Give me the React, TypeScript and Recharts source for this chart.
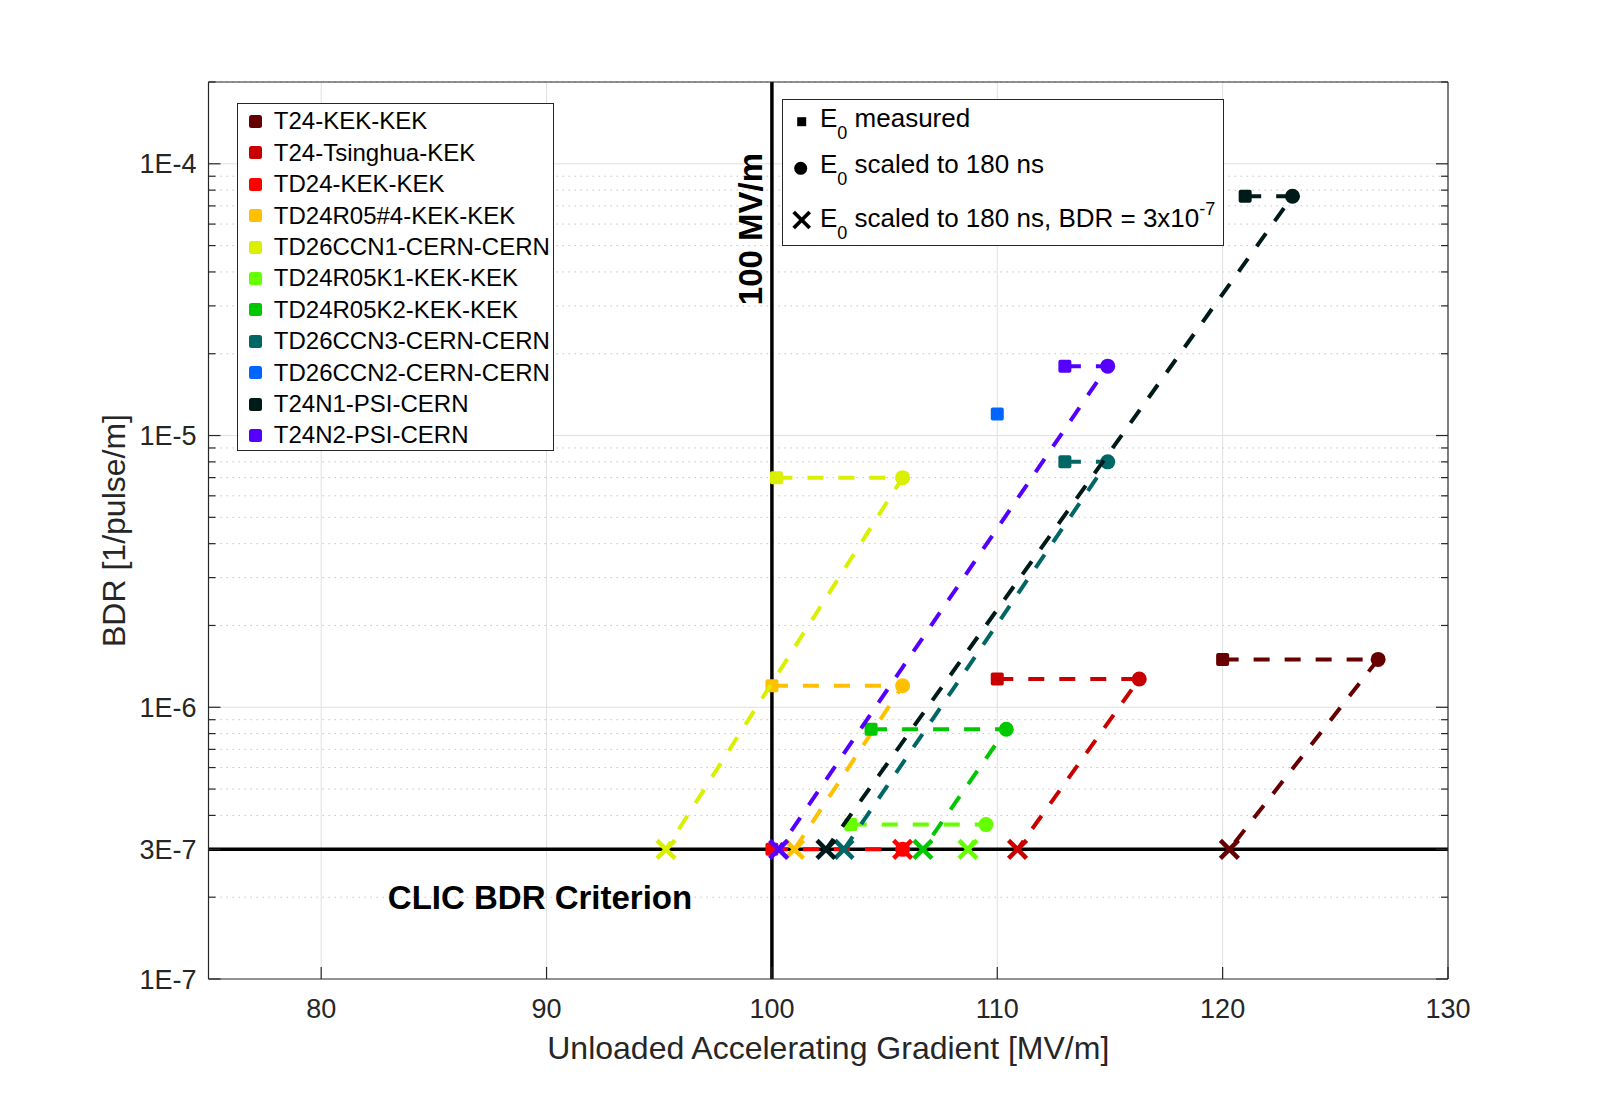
import React from 'react';
import { ScatterChart, Scatter, XAxis, YAxis, ReferenceLine } from 'recharts';

// ---------------- data ----------------
const SERIES_NAMES = [
  'T24-KEK-KEK',
  'T24-Tsinghua-KEK',
  'TD24-KEK-KEK',
  'TD24R05#4-KEK-KEK',
  'TD26CCN1-CERN-CERN',
  'TD24R05K1-KEK-KEK',
  'TD24R05K2-KEK-KEK',
  'TD26CCN3-CERN-CERN',
  'TD26CCN2-CERN-CERN',
  'T24N1-PSI-CERN',
  'T24N2-PSI-CERN',
];
// E0 measured [MV/m]
const E0_MEASURED = [120.0, 110.0, 100.0, 100.0, 100.2, 103.5, 104.4, 113.0, 110.0, 121.0, 113.0];
// E0 scaled to 180 ns [MV/m]
const E0_SCALED: (number | null)[] = [126.9, 116.3, 105.8, 105.8, 105.8, 109.5, 110.4, 114.9, null, 123.1, 114.9];
// measured BDR [1/pulse/m]
const BDR_MEASURED = [1.5e-6, 1.27e-6, 3.0e-7, 1.2e-6, 7.0e-6, 3.7e-7, 8.3e-7, 8.0e-6, 1.2e-5, 7.6e-5, 1.8e-5];
// E0 scaled to 180 ns at BDR = 3e-7
const E0_AT_CRITERION: (number | null)[] = [120.3, 110.9, 105.8, 101.0, 95.3, 108.7, 106.7, 103.2, null, 102.4, 100.3];
const BDR_CRITERION = 3e-7;
const GRADIENT_TARGET = 100;

const X_TICKS = [80, 90, 100, 110, 120, 130];
const X_GRID = [80, 90, 110, 120];
const Y_TICKS = [1e-7, 3e-7, 1e-6, 1e-5, 1e-4];
const Y_TICK_LABELS = ['1E-7', '3E-7', '1E-6', '1E-5', '1E-4'];
const Y_MAJOR_GRID = [1e-6, 1e-5, 1e-4];
const Y_MINOR = [
  2e-7, 4e-7, 5e-7, 6e-7, 7e-7, 8e-7, 9e-7,
  2e-6, 3e-6, 4e-6, 5e-6, 6e-6, 7e-6, 8e-6, 9e-6,
  2e-5, 3e-5, 4e-5, 5e-5, 6e-5, 7e-5, 8e-5, 9e-5,
  2e-4,
];
const X_DOMAIN = [75, 130];
const Y_DOMAIN = [1e-7, 2e-4];

// ---------------- styles ----------------
const COLORS = ['#660000', '#c80000', '#ff0000', '#ffc000', '#d9f000', '#66ff00', '#00c800', '#006666', '#0066ff', '#001919', '#5500ff'];
const FONT = "'Liberation Sans', Arial, Helvetica, sans-serif";
const AXIS = '#262626';

const ALL_Y_TICKS = [...Y_TICKS, ...Y_MINOR].sort((a, b) => a - b);
const majorIndex = (v: number) => Y_TICKS.findIndex((t) => Math.abs(t - v) / t < 1e-6);

const seriesData = SERIES_NAMES.map((name, i) => {
  const pts: { x: number; y: number; kind: string }[] = [
    { x: E0_MEASURED[i], y: BDR_MEASURED[i], kind: 'measured' },
  ];
  if (E0_SCALED[i] != null) pts.push({ x: E0_SCALED[i] as number, y: BDR_MEASURED[i], kind: 'scaled' });
  if (E0_AT_CRITERION[i] != null) pts.push({ x: E0_AT_CRITERION[i] as number, y: BDR_CRITERION, kind: 'criterion' });
  return pts;
});

const makeShape = (color: string) => (props: any) => {
  const { cx, cy, payload } = props;
  if (cx == null || cy == null) return <g />;
  if (payload.kind === 'measured') {
    return <rect x={cx - 6.5} y={cy - 6.5} width={13} height={13} rx={2} fill={color} />;
  }
  if (payload.kind === 'scaled') {
    return <circle cx={cx} cy={cy} r={7.5} fill={color} />;
  }
  return (
    <g stroke={color} strokeWidth={4.5}>
      <line x1={cx - 9} y1={cy - 9} x2={cx + 9} y2={cy + 9} />
      <line x1={cx - 9} y1={cy + 9} x2={cx + 9} y2={cy - 9} />
    </g>
  );
};

const LeftTick = (props: any) => {
  const { x, y, payload } = props;
  const idx = majorIndex(payload.value);
  const major = idx >= 0;
  return (
    <g>
      <line x1={x} x2={x + (major ? 12 : 7)} y1={y} y2={y} stroke={AXIS} strokeWidth={1.2} />
      {major && (
        <text x={x - 12} y={y + 9.5} textAnchor="end" fontSize={27} fontFamily={FONT} fill={AXIS}>
          {Y_TICK_LABELS[idx]}
        </text>
      )}
    </g>
  );
};

const RightTick = (props: any) => {
  const { x, y, payload } = props;
  const major = majorIndex(payload.value) >= 0;
  return <line x1={x} x2={x - (major ? 12 : 7)} y1={y} y2={y} stroke={AXIS} strokeWidth={1.2} />;
};

const BottomTick = (props: any) => {
  const { x, y, payload } = props;
  return (
    <g>
      <line x1={x} x2={x} y1={y} y2={y - 12} stroke={AXIS} strokeWidth={1.2} />
      <text x={x} y={y + 39} textAnchor="middle" fontSize={27} fontFamily={FONT} fill={AXIS}>
        {payload.value}
      </text>
    </g>
  );
};

const TopTick = (props: any) => {
  const { x, y } = props;
  return <line x1={x} x2={x} y1={y} y2={y + 12} stroke={AXIS} strokeWidth={1.2} />;
};

const XTitle = (props: any) => {
  const vb = props.viewBox || {};
  return (
    <text x={vb.x + vb.width / 2} y={vb.y + 80} textAnchor="middle" fontSize={32} fontFamily={FONT} fill={AXIS}>
      Unloaded Accelerating Gradient [MV/m]
    </text>
  );
};

const YTitle = (props: any) => {
  const vb = props.viewBox || {};
  const cx = vb.x + 16;
  const cy = vb.y + vb.height / 2;
  return (
    <text transform={`translate(${cx},${cy}) rotate(-90)`} textAnchor="middle" fontSize={32} fontFamily={FONT} fill={AXIS}>
      BDR [1/pulse/m]
    </text>
  );
};

const GradientLabel = (props: any) => {
  const vb = props.viewBox || {};
  return (
    <text
      transform={`translate(${vb.x - 9.5},${vb.y + 147}) rotate(-90)`}
      textAnchor="middle"
      fontSize={33}
      fontWeight="bold"
      fontFamily={FONT}
      fill="#000"
    >
      100 MV/m
    </text>
  );
};

const CriterionLabel = (props: any) => {
  const vb = props.viewBox || {};
  return (
    <text x={vb.x + 331.5} y={vb.y + 60} textAnchor="middle" fontSize={33} fontWeight="bold" fontFamily={FONT} fill="#000">
      CLIC BDR Criterion
    </text>
  );
};

const SeriesLegend = () => (
  <div
    style={{
      position: 'absolute',
      left: 236.5,
      top: 102.5,
      width: 317,
      height: 348,
      border: '1px solid #262626',
      background: '#fff',
      boxSizing: 'border-box',
      fontFamily: FONT,
    }}
  >
    {SERIES_NAMES.map((name, i) => (
      <div
        key={name}
        style={{
          position: 'absolute',
          left: 0,
          top: 18 + 31.4 * i - 15.7,
          height: 31.4,
          display: 'flex',
          alignItems: 'center',
        }}
      >
        <div style={{ width: 13, height: 13, borderRadius: 2.5, background: COLORS[i], marginLeft: 11.3 }} />
        <span style={{ marginLeft: 12, fontSize: 24, lineHeight: '24px', color: '#000', whiteSpace: 'nowrap' }}>{name}</span>
      </div>
    ))}
  </div>
);

const MarkerLegend = () => {
  const rowText: React.CSSProperties = {
    position: 'absolute',
    left: 820,
    fontSize: 26,
    lineHeight: '26px',
    color: '#000',
    whiteSpace: 'nowrap',
    fontFamily: FONT,
  };
  const sub: React.CSSProperties = { fontSize: 18, position: 'relative', top: 12 };
  const sup: React.CSSProperties = { fontSize: 18, position: 'relative', top: -12 };
  const off = 22; // baseline offset inside 26px line box
  return (
    <>
      <div
        style={{
          position: 'absolute',
          left: 782,
          top: 99,
          width: 442,
          height: 147,
          border: '1px solid #262626',
          background: '#fff',
          boxSizing: 'border-box',
        }}
      />
      <svg style={{ position: 'absolute', left: 0, top: 0 }} width={1600} height={300}>
        <rect x={801.7 - 4.5} y={121.7 - 4.5} width={9} height={9} fill="#000" />
        <circle cx={800.7} cy={168.3} r={6.5} fill="#000" />
        <g stroke="#000" strokeWidth={3.8}>
          <line x1={801.7 - 8} y1={220 - 8} x2={801.7 + 8} y2={220 + 8} />
          <line x1={801.7 - 8} y1={220 + 8} x2={801.7 + 8} y2={220 - 8} />
        </g>
      </svg>
      <div style={{ ...rowText, top: 126.7 - off }}>
        E<span style={sub}>0</span> measured
      </div>
      <div style={{ ...rowText, top: 172.7 - off }}>
        E<span style={sub}>0</span> scaled to 180 ns
      </div>
      <div style={{ ...rowText, top: 226.7 - off }}>
        E<span style={sub}>0</span> scaled to 180 ns, BDR = 3x10<span style={sup}>-7</span>
      </div>
    </>
  );
};

export default function App() {
  return (
    <div style={{ position: 'absolute', left: 0, top: 0, width: 1600, height: 1100, background: '#fff' }}>
      <ScatterChart width={1600} height={1100} margin={{ top: 81, right: 151, bottom: 61, left: 108.5 }}>
        <XAxis
          xAxisId="b"
          type="number"
          dataKey="x"
          domain={X_DOMAIN}
          ticks={X_TICKS}
          interval={0}
          allowDataOverflow
          orientation="bottom"
          height={60}
          tickSize={0}
          tickMargin={0}
          tickLine={false}
          tick={<BottomTick />}
          axisLine={{ stroke: AXIS, strokeWidth: 1.2 }}
          label={{ content: XTitle }}
        />
        <XAxis
          xAxisId="t"
          type="number"
          domain={X_DOMAIN}
          ticks={X_TICKS}
          interval={0}
          allowDataOverflow
          orientation="top"
          height={1}
          tickSize={0}
          tickMargin={0}
          tickLine={false}
          tick={<TopTick />}
          axisLine={{ stroke: AXIS, strokeWidth: 1.2 }}
        />
        <YAxis
          yAxisId="l"
          type="number"
          dataKey="y"
          scale="log"
          domain={Y_DOMAIN}
          ticks={ALL_Y_TICKS}
          interval={0}
          allowDataOverflow
          orientation="left"
          width={100}
          tickSize={0}
          tickMargin={0}
          tickLine={false}
          tick={<LeftTick />}
          axisLine={{ stroke: AXIS, strokeWidth: 1.2 }}
          label={{ content: YTitle }}
        />
        <YAxis
          yAxisId="r"
          type="number"
          scale="log"
          domain={Y_DOMAIN}
          ticks={ALL_Y_TICKS}
          interval={0}
          allowDataOverflow
          orientation="right"
          width={1}
          tickSize={0}
          tickMargin={0}
          tickLine={false}
          tick={<RightTick />}
          axisLine={{ stroke: AXIS, strokeWidth: 1.2 }}
        />

        {Y_MINOR.map((v) => (
          <ReferenceLine key={`ym${v}`} xAxisId="b" yAxisId="l" y={v} stroke="#c4c4c4" strokeWidth={1} strokeDasharray="1.5 4.5" />
        ))}
        {Y_MAJOR_GRID.map((v) => (
          <ReferenceLine key={`yM${v}`} xAxisId="b" yAxisId="l" y={v} stroke="#e0e0e0" strokeWidth={1} />
        ))}
        {X_GRID.map((v) => (
          <ReferenceLine key={`xg${v}`} xAxisId="b" yAxisId="l" x={v} stroke="#e0e0e0" strokeWidth={1} />
        ))}

        <ReferenceLine
          xAxisId="b"
          yAxisId="l"
          x={GRADIENT_TARGET}
          stroke="#000"
          strokeWidth={3.5}
          label={{ content: GradientLabel }}
        />
        <ReferenceLine
          xAxisId="b"
          yAxisId="l"
          y={BDR_CRITERION}
          stroke="#000"
          strokeWidth={3.5}
          label={{ content: CriterionLabel }}
        />

        {seriesData.map((pts, i) => (
          <Scatter
            key={SERIES_NAMES[i]}
            name={SERIES_NAMES[i]}
            xAxisId="b"
            yAxisId="l"
            data={pts}
            fill={COLORS[i]}
            line={{ stroke: COLORS[i], strokeWidth: 4, strokeDasharray: '16 15' }}
            lineType="joint"
            shape={makeShape(COLORS[i])}
            isAnimationActive={false}
          />
        ))}
      </ScatterChart>
      <SeriesLegend />
      <MarkerLegend />
    </div>
  );
}
